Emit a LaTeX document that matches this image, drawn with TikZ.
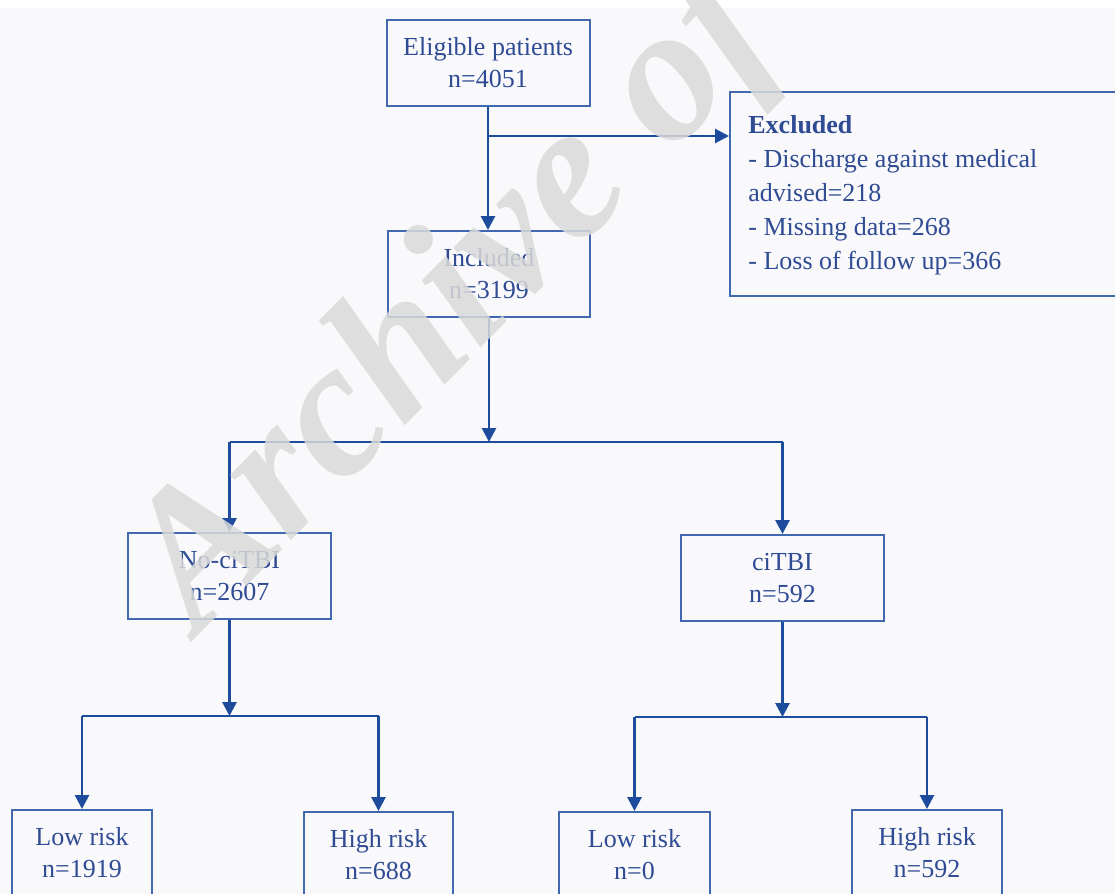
\documentclass[tikz,border=0pt]{standalone}
\usepackage{fontspec}
\setmainfont{Liberation Serif}
\usetikzlibrary{arrows.meta,calc}
\definecolor{txt}{HTML}{2F4B94}
\definecolor{bord}{HTML}{4169B0}
\definecolor{arr}{HTML}{1E4C9C}
\definecolor{bg}{HTML}{F9F9FC}
\definecolor{wm}{HTML}{DADADA}
\begin{document}
\begin{tikzpicture}[x=0.5pt,y=-0.5pt,
  box/.style={draw=bord,line width=1pt,text=txt,align=center,inner sep=0pt,
    minimum height=43pt,font=\fontsize{13}{16}\selectfont},
  conn/.style={draw=arr,line width=1.4pt,-{Triangle[length=7pt,width=7pt]}},
  link/.style={draw=arr,line width=1.4pt}]
\useasboundingbox (0,0) rectangle (1115,894);
\fill[bg] (0,0) rectangle (1115,894);
\fill[white] (0,0) rectangle (1115,8);
\clip (0,0) rectangle (1115,894);

\node[box,minimum width=101.5pt] (elig) at (488,63) {Eligible patients\\n=4051};
\node[box,minimum width=101pt] (incl) at (489,274) {Included\\n=3199};
\node[box,minimum width=101.5pt] (notbi) at (229.5,576) {No-ciTBI\\n=2607};
\node[box,minimum width=101.5pt] (citbi) at (782.5,578) {ciTBI\\n=592};
\node[box,minimum width=70pt] (low1) at (82,853) {Low risk\\n=1919};
\node[box,minimum width=74.5pt] (high1) at (378.5,855) {High risk\\n=688};
\node[box,minimum width=75.5pt] (low2) at (634.5,855) {Low risk\\n=0};
\node[box,minimum width=75pt] (high2) at (927,853) {High risk\\n=592};
\node[box,anchor=north west,minimum width=198pt,minimum height=102pt] (excl) at (729,91) {};
\node[anchor=west,align=left,inner sep=0pt,text=txt,font=\fontsize{13}{17}\selectfont]
  (excltxt) at ($(excl.west)+(19,1)$)
  {\textbf{Excluded}\\- Discharge against medical\\advised=218\\- Missing data=268\\- Loss of follow up=366};

\draw[conn] (elig.south) -- (elig.south |- incl.north);
\path (elig.south) ++(0,29) coordinate (b1);
\draw[conn] (b1) -- (b1 -| excl.west);

\path (incl.south) ++(0,124) coordinate (s1);
\draw[conn] (incl.south) -- (s1);
\draw[link] (s1 -| notbi.north) -- (s1 -| citbi.north);
\draw[conn] (s1 -| notbi.north) -- (notbi.north);
\draw[conn] (s1 -| citbi.north) -- (citbi.north);

\path (notbi.south) ++(0,96) coordinate (s2);
\draw[conn] (notbi.south) -- (s2);
\draw[link] (s2 -| low1.north) -- (s2 -| high1.north);
\draw[conn] (s2 -| low1.north) -- (low1.north);
\draw[conn] (s2 -| high1.north) -- (high1.north);

\path (citbi.south) ++(0,95) coordinate (s3);
\draw[conn] (citbi.south) -- (s3);
\draw[link] (s3 -| low2.north) -- (s3 -| high2.north);
\draw[conn] (s3 -| low2.north) -- (low2.north);
\draw[conn] (s3 -| high2.north) -- (high2.north);

\node[rotate=45.5,anchor=base west,text=wm,opacity=0.85,inner sep=0pt,
  font=\fontsize{97}{97}\bfseries\itshape] (wmark) at (198,636) {Archive of SID};
\end{tikzpicture}
\end{document}
